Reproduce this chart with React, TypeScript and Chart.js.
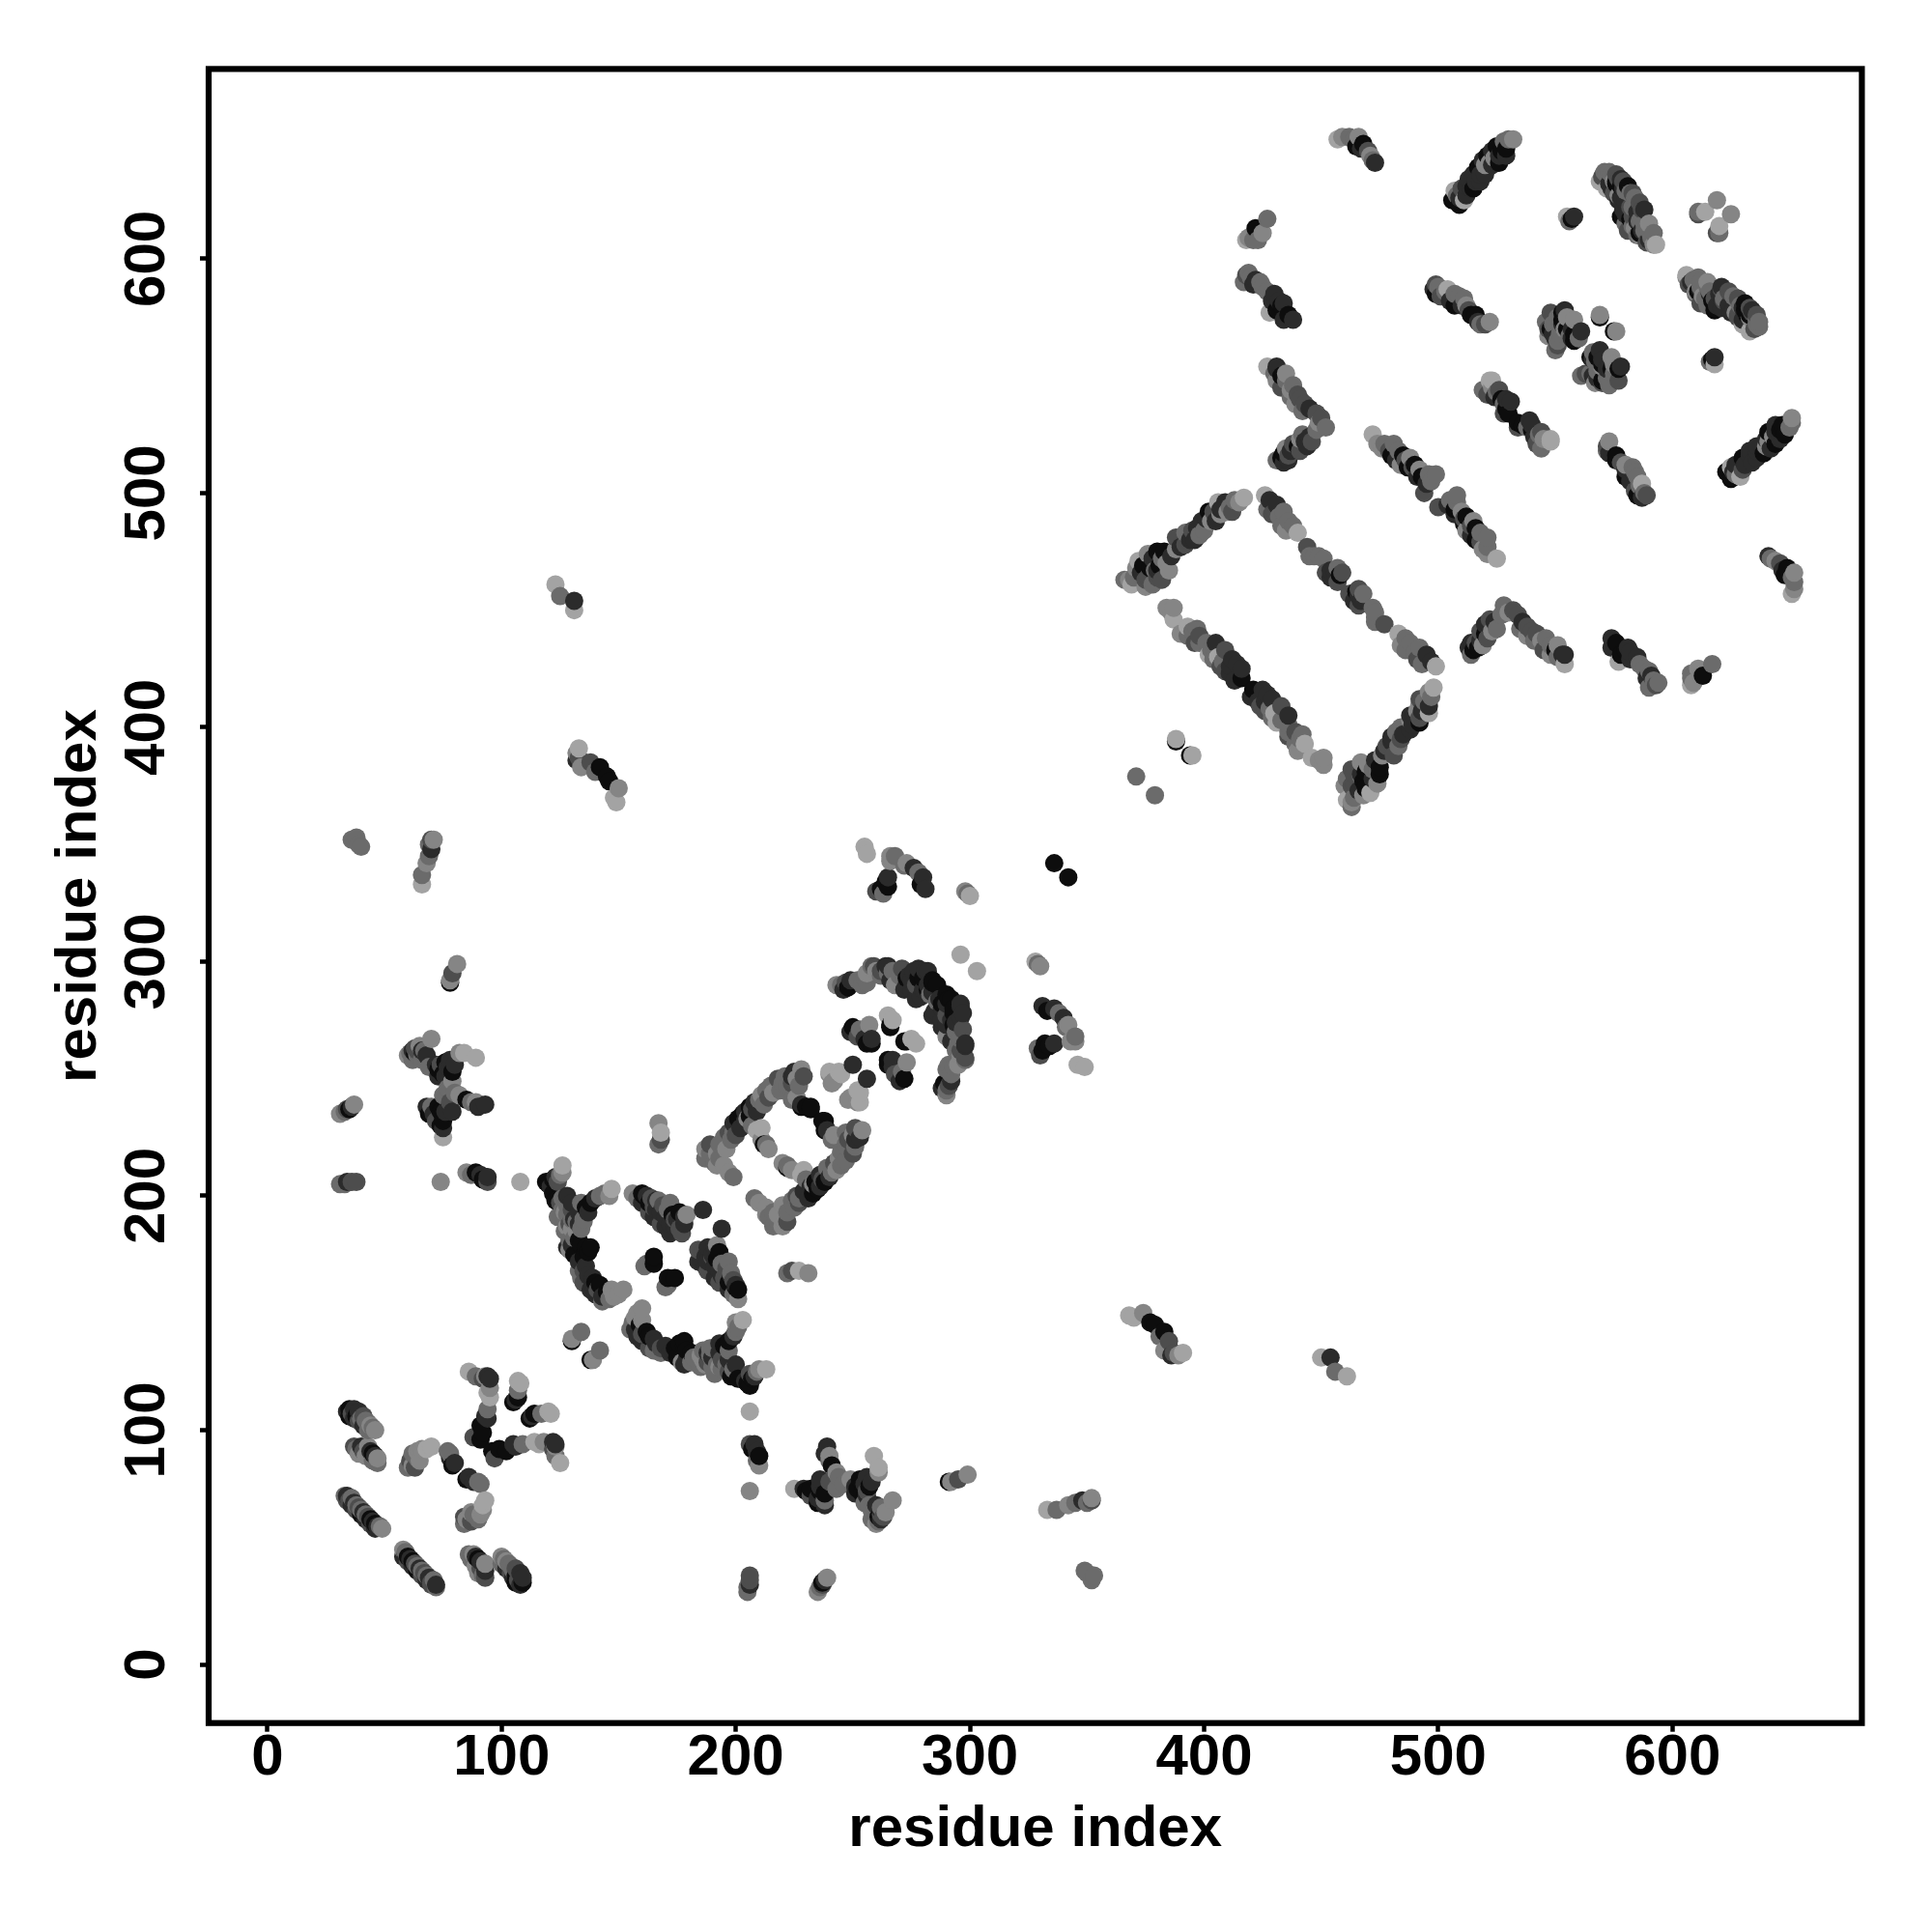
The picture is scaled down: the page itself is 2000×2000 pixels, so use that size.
import React, { useEffect, useRef } from "react";
import { Chart, registerables } from "chart.js";

Chart.register(...registerables);

type Contact = [number, number, number];

const axisTicks = [0, 100, 200, 300, 400, 500, 600];
const axisLabel = "residue index";
const greys = ["#0d0d0d", "#2b2b2b", "#4d4d4d", "#6b6b6b", "#858585", "#a3a3a3"];

const strandA: Contact[] = [[33,72,3],[34,72,1],[34,70,2],[35,70,2],[36,71,3],[36,68,1],[37,69,1],[38,68,3],[38,66,2],[39,67,2],[40,66,3],[40,64,0],[41,65,1],[42,64,3],[42,62,1],[43,63,2],[44,62,0],[44,60,2],[45,61,1],[46,60,0],[46,58,1],[47,59,1],[48,59,3],[49,58,4]];
const strandB: Contact[] = [[34,108,1],[35,109,0],[35,106,0],[36,107,2],[37,109,1],[37,105,1],[38,106,0],[39,108,1],[39,104,2],[40,105,3],[41,106,2],[41,102,1],[42,104,3],[43,103,3],[43,100,3],[44,102,4],[45,101,3],[46,100,4],[37,93,2],[38,92,3],[39,90,4],[40,93,1],[41,91,2],[42,89,4],[43,93,4],[44,91,1],[45,90,0],[46,89,1],[45,87,3],[47,88,4],[47,86,3]];
const starA: Contact[] = [[86,125,5],[89,123,3],[92,122,2],[93,123,4],[94,123,1],[95,122,1],[95,118,4],[94,116,5],[95,114,5],[94,109,3],[93,106,1],[94,105,1],[91,102,0],[92,99,0],[88,97,2],[91,96,0],[107,121,5],[107,117,3],[106,113,1],[105,112,0],[107,114,0],[108,120,5]];
const starB: Contact[] = [[60,84,3],[61,87,2],[62,85,4],[62,90,3],[63,84,2],[64,88,3],[64,91,4],[65,87,4],[66,92,4],[68,92,5],[70,93,5],[77,91,3],[78,88,1],[78,90,3],[79,85,0],[80,86,1]];
const isolatedLeft: Contact[] = [[31,205,3],[33,205,3],[34,206,1],[36,206,2],[38,206,2],[74,206,4],[108,206,5],[85,210,4],[87,209,3],[89,210,0],[91,209,1],[92,207,0],[94,208,1],[94,206,2],[36,352,3],[38,353,3],[39,350,3],[40,349,3],[66,333,5],[66,337,3],[68,342,4],[69,345,3],[70,348,1],[69,350,3],[70,352,2],[71,352,4],[78,291,0],[78,292,4],[79,295,2],[81,299,4]];
const clusterC: Contact[] = [[60,260,4],[61,261,3],[62,262,1],[62,258,3],[63,261,0],[63,263,2],[64,260,3],[64,262,2],[65,264,4],[66,258,3],[66,262,1],[67,262,3],[68,257,3],[68,260,1],[69,255,3],[70,267,4],[72,256,1],[73,254,0],[73,251,1],[74,256,2],[75,252,0],[76,251,1],[76,257,0],[77,255,1],[78,258,1],[79,253,0],[80,256,1],[82,261,4],[84,261,5],[89,259,5],[79,249,4],[77,246,3],[75,243,3],[80,244,3],[82,243,4],[85,241,0],[87,240,3],[89,240,4],[90,238,1],[93,239,1],[68,238,1],[69,235,0],[70,238,3],[71,235,1],[72,232,2],[73,238,0],[74,236,0],[75,232,0],[75,225,5],[75,229,1],[74,230,0],[76,236,1],[78,240,2],[79,236,1]];
const clusterD: Contact[] = [[31,235,4],[33,236,3],[34,237,2],[35,237,0],[36,238,1],[37,239,4],[123,461,5],[125,456,3],[131,450,5],[131,454,1],[368,149,5],[370,148,5],[374,150,4],[377,146,0],[379,145,0],[381,140,3],[383,142,0],[383,134,4],[385,138,2],[386,132,1],[387,133,2],[389,132,4],[391,133,5]];
const hexagonA: Contact[] = [[119,206,0],[120,205,0],[121,204,1],[122,207,0],[123,208,1],[124,206,2],[125,209,3],[126,210,4],[126,213,5],[122,201,0],[123,198,0],[125,197,2],[126,194,3],[128,196,3],[128,192,3],[130,194,2],[133,193,1],[135,190,3],[136,195,0],[138,197,0],[140,199,1],[142,200,3],[144,201,3],[147,203,5],[146,200,4],[137,193,1],[134,197,3],[127,190,3],[129,188,2],[130,186,4],[132,189,3],[133,188,1],[127,185,3],[128,187,4],[124,191,3],[127,193,4],[130,190,3],[126,199,3],[128,200,1],[131,190,1],[130,197,1]];
const hexagonB: Contact[] = [[129,177,4],[130,179,1],[131,182,3],[132,185,4],[134,186,3],[135,189,3],[133,181,0],[134,179,0],[136,178,0],[137,176,0],[138,178,0],[135,174,0],[136,170,1],[134,165,3],[135,168,2],[137,166,1],[139,165,1],[140,163,0],[141,160,2],[142,162,0],[143,157,1],[145,159,0],[146,156,3],[147,160,4],[148,157,4],[150,158,4],[152,160,4],[129,181,3],[128,178,1],[131,175,0],[133,172,1],[133,168,3],[135,163,2],[138,160,1],[140,158,1],[143,155,3]];
const hexagonC: Contact[] = [[156,201,4],[158,199,3],[160,201,0],[160,197,1],[161,200,0],[162,200,1],[163,197,0],[163,193,2],[164,199,2],[165,195,2],[165,191,1],[166,194,1],[166,198,1],[167,198,3],[168,193,1],[168,188,2],[169,196,2],[170,191,1],[170,187,1],[171,194,3],[172,188,1],[172,184,1],[172,197,3],[173,192,0],[174,187,1],[174,190,2],[175,190,1],[176,193,0],[176,186,2],[177,184,2],[178,188,1],[178,191,1],[179,192,4],[186,194,1]];
const hexagonInner: Contact[] = [[162,171,3],[161,170,3],[165,171,0],[165,174,0],[130,138,0],[130,139,4],[134,142,3],[167,231,4],[168,224,2],[168,227,5],[167,222,3]];
const diamondA: Contact[] = [[187,216,3],[187,220,4],[189,218,3],[189,222,2],[191,214,3],[192,213,4],[192,218,4],[193,216,3],[193,222,3],[195,213,4],[195,225,3],[196,220,4],[197,210,4],[197,227,2],[198,224,3],[199,208,3],[199,227,3],[199,231,1],[200,226,2],[201,233,0],[202,229,1],[203,235,0],[204,232,1],[204,236,1],[205,233,4],[206,234,0],[206,238,0],[207,237,2],[208,240,1],[209,236,1],[210,241,3],[211,243,4],[212,239,3],[213,245,3],[214,242,2],[215,247,3],[216,244,4],[218,250,2],[219,245,3],[220,248,3],[221,251,3],[222,247,3],[224,248,2],[224,251,1],[225,253,1],[226,250,4],[227,247,3],[228,254,4],[229,251,2]];
const diamondInner: Contact[] = [[207,230,3],[209,228,5],[211,224,4],[211,229,5],[212,222,0],[213,222,3],[214,220,4],[224,241,3],[228,238,0],[228,239,1],[230,238,0],[232,237,0],[232,238,0],[226,242,4]];
const bridgeA: Contact[] = [[240,252,4],[240,253,5],[241,248,4],[242,249,4],[244,253,5],[245,252,5],[250,256,1],[249,270,1],[250,272,0],[252,268,2],[253,271,3],[255,267,1],[256,265,0],[257,273,4],[258,265,0],[258,267,1],[265,277,5],[266,273,0],[267,275,5],[266,272,0]];
const bridgeB: Contact[] = [[243,290,4],[245,290,3],[246,288,1],[247,291,2],[248,289,0],[249,292,1],[252,292,3],[254,290,3],[255,293,3],[256,295,4],[256,291,3],[258,298,3],[259,298,2],[260,296,4],[262,296,2],[262,294,3],[264,298,1],[265,295,3],[265,298,1],[266,292,1],[267,296,3],[268,290,4],[270,294,3],[271,297,2],[272,288,1],[273,293,0],[273,290,1],[274,294,1],[275,292,1],[275,288,1],[276,296,1],[277,284,1],[277,290,2],[278,297,1],[278,293,0],[279,285,1],[280,293,0],[280,288,1],[281,296,1],[282,296,1],[282,290,1],[283,286,3],[284,291,0],[284,292,0],[284,287,1],[286,290,0],[287,284,1],[288,282,0],[296,303,5],[328,300,5],[330,298,4],[329,299,3]];
const clusterE: Contact[] = [[331,281,1],[333,279,0],[336,280,1],[338,278,3],[340,276,1],[341,272,3],[342,273,4],[343,266,4],[345,266,4],[345,268,3],[346,256,5],[349,255,5],[330,260,2],[329,263,3],[331,262,0],[332,265,0],[334,264,0],[336,265,1],[336,342,0]];
const sheetA: Contact[] = [[366,463,3],[368,463,4],[369,461,5],[370,464,3],[371,468,4],[372,471,5],[373,466,1],[374,469,0],[375,463,2],[375,460,4],[376,464,2],[376,474,4],[377,468,0],[378,472,1],[378,461,3],[379,467,3],[380,464,2],[380,467,1],[380,475,0],[381,469,0],[382,472,3],[382,463,2],[383,475,0],[384,470,4],[385,467,4],[386,473,1],[388,476,4],[388,481,2],[390,477,1],[392,478,2],[392,483,3],[394,480,1],[395,484,2],[396,480,1],[397,485,1],[398,482,3],[399,488,1],[400,484,3],[401,489,1],[402,492,0],[403,488,4],[404,492,2],[405,488,1],[406,496,5],[407,491,4],[407,493,1],[409,496,1],[410,492,4],[411,494,3],[412,492,2],[413,497,3],[415,496,4],[417,498,5]];
const sheetB: Contact[] = [[426,499,5],[427,493,3],[428,497,1],[429,491,2],[430,492,2],[431,495,1],[432,490,3],[433,486,3],[434,492,3],[435,484,4],[436,488,3],[438,486,3],[440,483,5],[444,477,2],[445,473,3],[447,473,3],[449,473,3],[451,472,3],[452,466,2],[454,467,1],[454,464,1],[456,466,1],[457,468,3],[457,462,2],[458,465,0],[459,466,2]];
const sheetC: Contact[] = [[384,451,4],[386,449,4],[387,451,4],[387,446,5],[390,440,4],[393,443,5],[393,439,3],[395,441,3],[396,436,2],[397,442,3],[398,439,2],[398,436,3],[401,436,3],[402,431,5],[403,433,3],[404,429,3],[405,436,1],[406,430,5],[407,426,2],[408,428,3],[409,433,2],[409,424,2],[411,426,1],[411,423,1],[412,429,1],[413,420,1],[414,427,1],[416,421,0],[416,425,1],[371,379,3],[388,394,0],[388,395,5]];
const sheetD: Contact[] = [[513,434,1],[514,431,3],[514,436,1],[515,433,0],[516,436,2],[517,434,0],[518,437,1],[518,441,2],[519,435,4],[520,440,0],[520,444,1],[521,438,2],[522,443,1],[522,446,2],[523,441,4],[524,445,1],[525,442,3],[527,448,3],[528,452,3],[530,449,4],[532,450,2],[534,448,2],[535,442,3],[536,445,1],[538,443,2],[538,439,4],[540,441,2],[541,437,3],[542,440,2],[544,437,4],[545,433,2],[546,438,3],[548,435,3],[548,431,4],[550,433,0],[551,435,4],[551,430,3],[553,431,1],[554,427,5],[554,431,1]];
const sheetE: Contact[] = [[472,525,5],[474,521,4],[476,519,4],[477,521,3],[479,518,2],[480,516,0],[481,521,3],[482,514,1],[483,518,3],[484,512,4],[485,516,0],[486,514,2],[487,511,0],[488,515,4],[489,511,2],[490,512,0],[491,507,1],[492,510,4],[493,507,0],[494,500,2],[495,504,1],[496,508,3],[497,505,3],[499,508,3]];
const topA: Contact[] = [[506,625,0],[507,629,5],[508,627,3],[509,626,1],[509,623,0],[510,630,2],[511,625,5],[512,631,1],[512,627,1],[513,634,1],[514,630,1],[515,636,1],[515,630,0],[516,633,1],[517,639,0],[518,636,1],[518,633,1],[519,642,1],[520,640,4],[520,636,1],[521,644,0],[522,641,4],[523,646,1],[523,640,1],[524,643,4],[525,648,0],[526,644,1],[526,641,0],[527,646,0],[528,650,3],[529,647,0],[529,644,1],[530,651,3],[532,651,4]];
const topB: Contact[] = [[457,651,5],[459,652,4],[462,652,3],[464,651,3],[465,648,0],[466,652,4],[467,647,1],[468,649,0],[470,646,2],[471,644,4],[472,642,3],[473,641,1],[555,618,5],[556,616,3],[557,617,0],[558,618,1]];
const topC: Contact[] = [[569,633,5],[570,635,2],[571,637,3],[572,636,3],[572,630,5],[573,632,1],[574,636,3],[574,630,1],[575,628,2],[576,633,0],[576,628,2],[577,634,2],[577,625,1],[578,631,0],[578,618,0],[578,626,1],[579,633,2],[579,621,1],[580,615,3],[580,629,3],[580,624,1],[581,612,2],[582,628,3],[582,622,2],[583,618,2],[583,614,3],[584,626,3],[585,610,3],[585,616,1],[586,611,0],[587,621,2],[587,612,1],[588,615,3],[590,612,3],[591,609,3],[593,606,5],[611,620,3],[611,619,2],[614,620,5],[619,625,4]];
const topC2: Contact[] = [[606,592,4],[607,589,2],[608,590,1],[610,586,4],[611,592,3],[612,588,3],[613,584,4],[615,590,4],[616,586,3],[617,582,0],[619,580,1],[620,585,1],[621,588,1],[622,583,3],[624,586,2],[625,580,1],[627,577,4],[628,583,2],[630,579,1],[631,581,0],[632,576,0],[633,575,4],[634,578,1],[636,576,2],[637,573,3]];
const topD: Contact[] = [[498,587,1],[499,589,2],[499,585,0],[500,588,3],[501,584,2],[503,586,3],[504,587,5],[505,582,1],[507,585,3],[507,580,0],[509,584,3],[510,580,1],[511,583,3],[512,580,4],[513,578,2],[514,576,0],[516,576,0],[517,573,1],[518,572,3],[520,572,2],[522,573,4]];
const topE: Contact[] = [[546,573,3],[547,567,4],[547,570,2],[548,570,0],[548,577,2],[549,568,1],[549,572,3],[550,561,3],[550,566,1],[551,563,2],[551,565,3],[551,575,3],[552,568,3],[553,572,1],[553,574,0],[553,577,0],[554,578,1],[554,570,4],[555,570,0],[555,575,4],[556,567,3],[557,566,1],[557,570,1],[558,565,0],[558,568,0],[558,574,4],[560,566,3],[561,569,1],[569,575,0],[569,576,4]];
const topF: Contact[] = [[519,544,3],[521,542,2],[522,548,5],[523,548,5],[523,545,4],[524,541,1],[525,543,3],[526,544,2],[527,540,0],[528,534,2],[528,538,3],[529,536,0],[529,540,1],[530,534,0],[531,539,1]];
const topG: Contact[] = [[418,608,5],[419,609,4],[421,608,3],[422,613,0],[423,608,3],[425,611,4],[427,617,3],[417,590,3],[418,593,2],[419,594,3],[420,592,3],[421,589,1],[422,591,1],[424,590,3],[425,588,3],[427,586,3],[428,577,5],[429,582,1],[430,585,1],[431,578,0],[432,582,1],[433,580,0],[434,581,1],[434,574,1],[436,576,0],[438,574,1]];

const halfMap: Contact[] = [
  ...strandA, ...strandB, ...starA, ...starB, ...isolatedLeft, ...clusterC, ...clusterD,
  ...hexagonA, ...hexagonB, ...hexagonC, ...hexagonInner, ...diamondA, ...diamondInner,
  ...bridgeA, ...bridgeB, ...clusterE, ...sheetA, ...sheetB, ...sheetC, ...sheetD, ...sheetE,
  ...topA, ...topB, ...topC, ...topC2, ...topD, ...topE, ...topF, ...topG,
];

// The contact map is symmetric; later residues paint over earlier ones.
const fullMap: Contact[] = [
  ...halfMap,
  ...halfMap.map(([a, b, g]): Contact => [b, a, g]),
].sort((p, q) => p[0] - q[0] || p[1] - q[1]);

export default function App() {
  const ref = useRef<HTMLCanvasElement>(null);
  useEffect(() => {
    const font = { family: "'Liberation Sans', Arial, sans-serif", size: 60, weight: "bold" as const, lineHeight: 1 };
    const frame = {
      id: "frame",
      afterDraw(c: any) {
        const { left, top, width, height } = c.chartArea;
        const ctx = c.ctx;
        ctx.save();
        ctx.strokeStyle = "#000";
        ctx.lineWidth = 6.2;
        ctx.strokeRect(left, top, width, height);
        ctx.restore();
      },
    };
    const setTicks = (s: any) => { s.ticks = axisTicks.map((value) => ({ value })); };
    const grid = { drawOnChartArea: false, drawTicks: true, tickLength: 9, tickWidth: 4.5, tickColor: "#000" };
    const chart = new Chart(ref.current!, {
      type: "scatter",
      data: {
        datasets: [{
          data: fullMap.map(([x, y]) => ({ x, y })),
          pointRadius: 9.5,
          pointBorderWidth: 0,
          pointBackgroundColor: fullMap.map((p) => greys[p[2]]),
        }],
      },
      options: {
        responsive: false,
        animation: false,
        layout: { padding: { top: 71.4, right: 72.6, left: 0, bottom: 0 } },
        plugins: { legend: { display: false }, tooltip: { enabled: false } },
        scales: {
          x: {
            type: "linear", min: -25.1, max: 680.9,
            grid, border: { display: false },
            afterBuildTicks: setTicks,
            afterFit: (s: any) => { s.height = 2000 - 1783.7; },
            ticks: { font, color: "#000", padding: -2, maxRotation: 0, autoSkip: false },
            title: { display: true, text: axisLabel, font, color: "#000", padding: { top: 0, bottom: 76 } },
          },
          y: {
            type: "linear", min: -25, max: 681,
            grid, border: { display: false },
            afterBuildTicks: setTicks,
            afterFit: (s: any) => { s.width = 216; },
            ticks: { font, color: "#000", padding: 3, minRotation: 90, maxRotation: 90, autoSkip: false, crossAlign: "center" },
            title: { display: true, text: axisLabel, font, color: "#000", padding: { top: 52, bottom: 0 } },
          },
        },
      },
      plugins: [frame],
    } as any);
    return () => chart.destroy();
  }, []);
  return (
    <canvas
      ref={ref}
      width={2000}
      height={2000}
      style={{ position: "absolute", left: 0, top: 0, background: "#fff" }}
    />
  );
}
